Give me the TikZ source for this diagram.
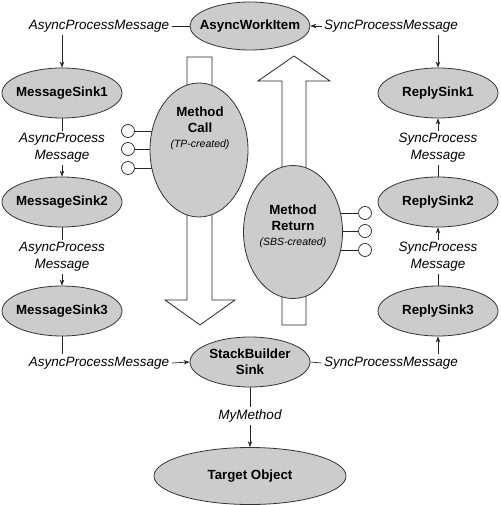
\documentclass[tikz,border=0pt]{standalone}
\usepackage{fontspec}
\setmainfont{Liberation Sans}
\usetikzlibrary{shapes.geometric,arrows.meta,backgrounds}
\begin{document}
\begin{tikzpicture}[x=1pt,y=-1pt,
  sink/.style={ellipse, draw=black!80, fill=black!20, line width=0.8pt, inner sep=0pt, minimum width=120pt, minimum height=50pt},
  stxt/.style={font=\fontsize{13.3}{16}\selectfont\bfseries, align=center, inner sep=0pt},
  smalltxt/.style={font=\fontsize{10.5}{12}\selectfont\itshape, inner sep=0pt},
  lbl/.style={font=\fontsize{13.5}{17}\selectfont\itshape, align=center, inner sep=2.5pt},
  conn/.style={draw=black!85, line width=0.7pt},
  arr/.style={conn, -{Stealth[length=6pt,width=4.5pt]}},
  port/.style={circle, draw=black!85, fill=white, line width=0.7pt, minimum size=13pt, inner sep=0pt},
  big/.style={draw=black!85, fill=white, line width=0.8pt, line join=miter},
]
\useasboundingbox (0,0) rectangle (500,505);

% sinks
\node[sink, minimum height=48pt, label={[stxt]center:AsyncWorkItem}] (aw) at (250,26) {};
\node[sink, label={[stxt]center:MessageSink1}] (ms1) at (62,93) {};
\node[sink, label={[stxt]center:MessageSink2}] (ms2) at (62,202) {};
\node[sink, label={[stxt]center:MessageSink3}] (ms3) at (62,311) {};
\node[sink, label={[stxt]center:ReplySink1}] (rs1) at (438,93) {};
\node[sink, label={[stxt]center:ReplySink2}] (rs2) at (438,202) {};
\node[sink, label={[stxt]center:ReplySink3}] (rs3) at (438,311) {};
\node[sink, label={[stxt]center:StackBuilder\\Sink}] (sbs) at (250,362) {};
\node[sink, minimum width=192pt, minimum height=57pt, label={[stxt]center:Target Object}] (tgt) at (250,476) {};

% message objects
\node[sink, minimum width=98pt, minimum height=134pt] (mc) at (199,150) {};
\node[stxt] (mct) at (200,119.5) {Method\\Call};
\node[smalltxt] (mcs) at (200,145) {(TP-created)};
\node[sink, minimum width=99pt, minimum height=133pt] (mr) at (293,232) {};
\node[stxt] (mrt) at (293,218) {Method\\Return};
\node[smalltxt] (mrs) at (293,243) {(SBS-created)};

% ports
\node[port] (p1) at (128,131) {};
\node[port] (p2) at (128,149) {};
\node[port] (p3) at (128,168) {};
\node[port] (q1) at (365,213) {};
\node[port] (q2) at (365,231) {};
\node[port] (q3) at (365,250) {};

% labels
\node[lbl] (la0) at (99,26) {AsyncProcessMessage};
\node[lbl] (ls0) at (391,26) {SyncProcessMessage};
\node[lbl] (la1) at (62,148) {AsyncProcess\\Message};
\node[lbl] (la2) at (62,257) {AsyncProcess\\Message};
\node[lbl] (ls1) at (438,148) {SyncProcess\\Message};
\node[lbl] (ls2) at (438,257) {SyncProcess\\Message};
\node[lbl] (la3) at (99,363) {AsyncProcessMessage};
\node[lbl] (ls3) at (391,363) {SyncProcessMessage};
\node[lbl] (mm) at (250,416) {MyMethod};

\begin{pgfonlayer}{background}
  % wide arrows
  \draw[big] (187,57) -- (212,57) -- (212,300) -- (235,300) -- (200,325) -- (165,300) -- (187,300) -- cycle;
  \draw[big] (282,325) -- (306,325) -- (306,81) -- (330,81) -- (294,56) -- (258,81) -- (282,81) -- cycle;
  % port stubs
  \foreach \p in {p1,p2,p3} \draw[conn] (\p.east) -- (\p.east -| mc.center);
  \foreach \q in {q1,q2,q3} \draw[conn] (\q.west) -- (\q.west -| mr.center);
\end{pgfonlayer}

% connectors
\draw[conn] (la0.east) -- (aw.west);
\draw[arr] (ls0.west) -- (aw.east);
\draw[arr] (la0.south -| ms1.north) -- (ms1.north);
\draw[arr] (ls0.south -| rs1.north) -- (rs1.north);
\draw[conn] (ms1.south) -- (la1.north);
\draw[arr] (la1.south) -- (ms2.north);
\draw[conn] (ms2.south) -- (la2.north);
\draw[arr] (la2.south) -- (ms3.north);
\draw[conn] (ms3.south) -- (la3.north -| ms3.south);
\draw[arr] (la3.east) -- (sbs.west);
\draw[conn] (sbs.east) -- (ls3.west);
\draw[arr] (ls3.north -| rs3.south) -- (rs3.south);
\draw[conn] (rs3.north) -- (ls2.south);
\draw[arr] (ls2.north) -- (rs2.south);
\draw[conn] (rs2.north) -- (ls1.south);
\draw[arr] (ls1.north) -- (rs1.south);
\draw[conn] (sbs.south) -- (mm.north);
\draw[arr] (mm.south) -- (tgt.north);
\end{tikzpicture}
\end{document}
